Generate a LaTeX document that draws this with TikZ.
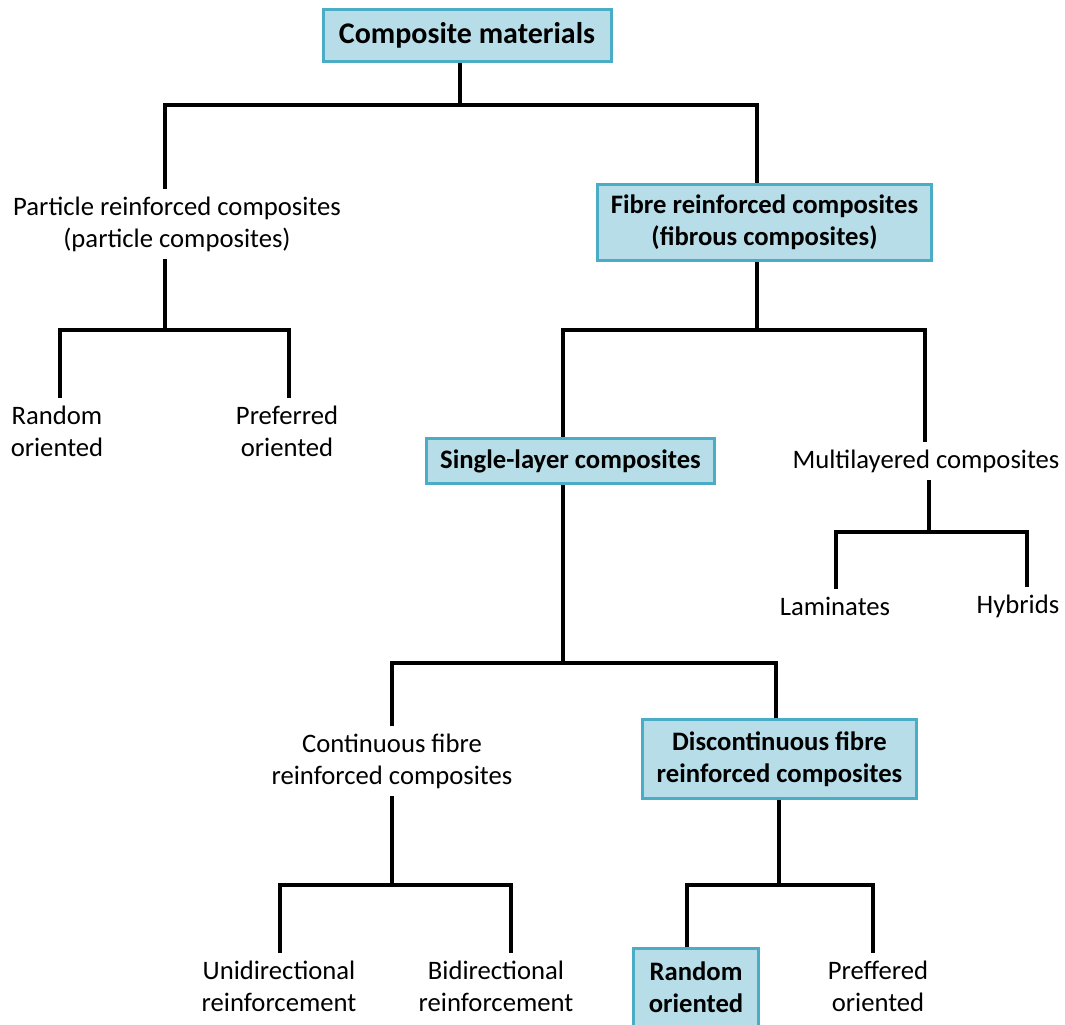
\documentclass[tikz,border=0pt]{standalone}
\usepackage{fontspec}
\setmainfont{Carlito}
\usetikzlibrary{positioning,calc}
\definecolor{boxfill}{HTML}{B7DEE8}
\definecolor{boxedge}{HTML}{4BACC6}

\begin{document}
\begin{tikzpicture}[x=0.75pt, y=-0.75pt,
                    every node/.style={align=center, font=\fontsize{20}{24}\selectfont},
                    txt/.style={inner sep=0pt, outer sep=6pt},
                    hl/.style={draw=boxedge, fill=boxfill, line width=2.25pt, inner sep=0pt,
                               font=\fontsize{20}{24}\selectfont\bfseries},
                    link/.style={line width=3pt}]
  \useasboundingbox (0,0) rectangle (1065,1025);

  % classes
  \node[hl, minimum width=216pt, minimum height=39pt, font=\fontsize{22.5}{24}\selectfont\bfseries] (comp) at (467,35) {Composite materials};
  \node[txt] (part) at (177,224) {Particle reinforced composites\\(particle composites)};
  \node[hl, minimum width=250pt, minimum height=57pt] (fibre) at (764.5,222.5) {Fibre reinforced composites\\(fibrous composites)};
  \node[txt] (rand1) at (57,431) {Random\\oriented};
  \node[txt] (pref1) at (287,431) {Preferred\\oriented};
  \node[hl, minimum width=216pt, minimum height=34pt] (single) at (570.5,461) {Single-layer composites};
  \node[txt] (multi) at (926,461) {Multilayered composites};
  \node[txt] (lam) at (835,606) {Laminates};
  \node[txt] (hyb) at (1018,606) {Hybrids};
  \node[txt] (cont) at (392,761) {Continuous fibre\\reinforced composites};
  \node[hl, minimum width=205pt, minimum height=59pt] (disc) at (779.5,759) {Discontinuous fibre\\reinforced composites};
  \node[txt] (uni) at (279,986) {Unidirectional\\reinforcement};
  \node[txt] (bi) at (496,986) {Bidirectional\\reinforcement};
  \node[hl, minimum width=94pt, minimum height=58pt] (rand2) at (696,987.5) {Random\\oriented};
  \node[txt] (pref2) at (878,986) {Preffered\\oriented};

  % branch points
  \coordinate (j0) at (460,105);  \coordinate (j0l) at (165,105);  \coordinate (j0r) at (757,105);
  \coordinate (j1) at (165,330);  \coordinate (j1l) at (60,330);   \coordinate (j1r) at (289,330);
  \coordinate (j2) at (757,330);  \coordinate (j2l) at (563,330);  \coordinate (j2r) at (925,330);
  \coordinate (j3) at (929,532);  \coordinate (j3l) at (836,532);  \coordinate (j3r) at (1027,532);
  \coordinate (j4) at (563,663);  \coordinate (j4l) at (392,663);  \coordinate (j4r) at (776,663);
  \coordinate (j5) at (392,885);  \coordinate (j5l) at (280,885);  \coordinate (j5r) at (511,885);
  \coordinate (j6) at (779,885);  \coordinate (j6l) at (687,885);  \coordinate (j6r) at (873,885);

  \draw[link] (comp.south -| j0) -- (j0);
  \draw[link] (part.north -| j0l) -- (j0l) -- (j0r) -- (fibre.north -| j0r);
  \draw[link] (part.south -| j1) -- (j1);
  \draw[link] (rand1.north -| j1l) -- (j1l) -- (j1r) -- (pref1.north -| j1r);
  \draw[link] (fibre.south -| j2) -- (j2);
  \draw[link] (single.north -| j2l) -- (j2l) -- (j2r) -- (multi.north -| j2r);
  \draw[link] (multi.south -| j3) -- (j3);
  \draw[link] (lam.north -| j3l) -- (j3l) -- (j3r) -- (hyb.north -| j3r);
  \draw[link] (single.south -| j4) -- (j4);
  \draw[link] (cont.north -| j4l) -- (j4l) -- (j4r) -- (disc.north -| j4r);
  \draw[link] (cont.south -| j5) -- (j5);
  \draw[link] (uni.north -| j5l) -- (j5l) -- (j5r) -- (bi.north -| j5r);
  \draw[link] (disc.south -| j6) -- (j6);
  \draw[link] (rand2.north -| j6l) -- (j6l) -- (j6r) -- (pref2.north -| j6r);
\end{tikzpicture}
\end{document}
